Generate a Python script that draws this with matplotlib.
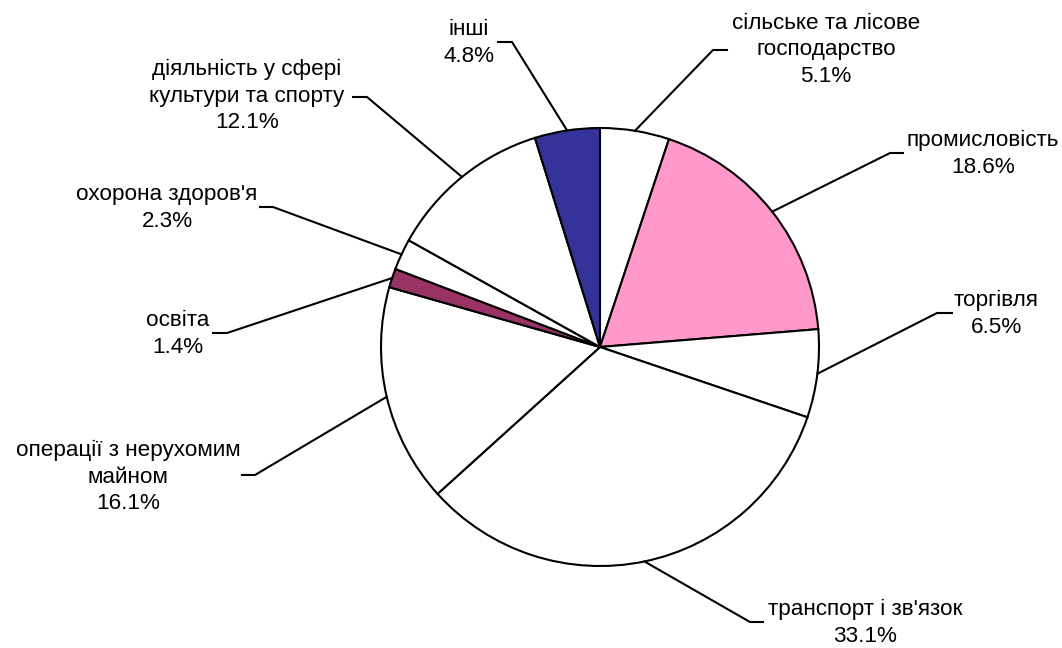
import numpy as np
import matplotlib
matplotlib.use("Agg")
import matplotlib.pyplot as plt

plt.rcParams['font.family'] = ['Liberation Sans', 'DejaVu Sans']

# частки галузей, % (за годинниковою стрілкою від верху)
categories = ["сільське та лісове\nгосподарство", "промисловість", "торгівля",
              "транспорт і зв'язок", "операції з нерухомим\nмайном", "освіта",
              "охорона здоров'я", "діяльність у сфері\nкультури та спорту", "інші"]
shares = [5.1, 18.6, 6.5, 33.1, 16.1, 1.4, 2.3, 12.1, 4.8]
colors = ["white", "#FF99CC", "white", "white", "white", "#993366",
          "white", "white", "#333399"]

W, H = 1062, 648
# розташування підписів (пікселі, y вниз): центр тексту, злам лінії, кінець лінії
label_xy = [(826, 50), (983, 154), (996, 314), (865, 623), (128, 477),
            (178, 334), (167, 208), (247, 96), (469, 43)]
elbow_xy = [(713, 50), (890, 153), (937, 313), (750, 622), (255, 475),
            (227, 333), (273, 207), (367, 97), (512, 42)]
end_xy = [(727, 50), (903, 153), (952, 313), (763, 622), (242, 475),
          (213, 333), (260, 207), (353, 97), (498, 42)]


def fy(y):
    return H - y


fig = plt.figure(figsize=(W / 100, H / 100), dpi=100)
ax = fig.add_axes([0, 0, 1, 1])
ax.set_xlim(0, W)
ax.set_ylim(0, H)
ax.set_aspect('equal')
ax.axis('off')

cx, cy, r = 600, fy(347), 219
wedges, _ = ax.pie(shares, colors=colors, startangle=90, counterclock=False,
                   center=(cx, cy), radius=r,
                   wedgeprops=dict(edgecolor='black', linewidth=1.5))
ax.set_xlim(0, W)
ax.set_ylim(0, H)

for i, w in enumerate(wedges):
    ang = np.deg2rad((w.theta1 + w.theta2) / 2)
    x0 = cx + r * np.cos(ang)
    y0 = cy + r * np.sin(ang)
    ex, ey = elbow_xy[i]
    tx, ty = end_xy[i]
    ax.plot([x0, ex, tx], [y0, fy(ey), fy(ty)], color='black', lw=1.5,
            solid_joinstyle='miter')
    lx, ly = label_xy[i]
    ax.text(lx, fy(ly), f"{categories[i]}\n{shares[i]:.1f}%", ha='center',
            va='center', multialignment='center', fontsize=16.2,
            linespacing=1.33)

fig.savefig("out.png", dpi=100)
